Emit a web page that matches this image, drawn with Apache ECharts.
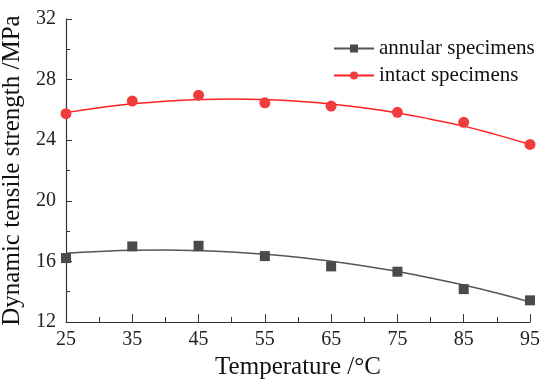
<!DOCTYPE html>
<html><head><meta charset="utf-8">
<script src="https://cdn.jsdelivr.net/npm/echarts@6/dist/echarts.min.js"></script>
<style>html,body{margin:0;padding:0;background:#fff}#c{width:550px;height:384px}</style>
</head><body><div id="c"></div>
<script>
const temps = [25, 35, 45, 55, 65, 75, 85, 95];
const annular = [16.22, 16.99, 17.03, 16.35, 15.67, 15.32, 14.17, 13.43];
const intact = [25.75, 26.58, 26.97, 26.47, 26.25, 25.84, 25.18, 23.72];
const fitTemps = [25, 30, 35, 40, 45, 50, 55, 60, 65, 70, 75, 80, 85, 90, 95];
const annularFit = [16.54, 16.65, 16.73, 16.75, 16.71, 16.62, 16.47, 16.27, 16.01, 15.70, 15.33, 14.91, 14.44, 13.91, 13.32];
const intactFit = [25.82, 26.14, 26.40, 26.57, 26.68, 26.72, 26.68, 26.57, 26.39, 26.13, 25.80, 25.39, 24.93, 24.35, 23.72];
const xTicks = [25, 35, 45, 55, 65, 75, 85, 95];
const yTicks = [12, 16, 20, 24, 28, 32];

const F = 'Liberation Serif';
const greyPt = '#4a4a4a', greyLn = '#555555', redPt = '#f03c3c', redLn = '#ff2020';
const zip = (a, b) => a.map((v, i) => [v, b[i]]);
const chart = echarts.init(document.getElementById('c'));
chart.setOption({
  animation: false,
  backgroundColor: '#fff',
  grid: {left: 66, right: 20, top: 19, bottom: 62, containLabel: false, outerBoundsMode: 'none'},
  legend: {
    data: ['annular specimens', 'intact specimens'],
    orient: 'vertical', left: 328, top: 33, itemGap: 6, itemWidth: 40, itemHeight: 10,
    textStyle: {fontFamily: F, fontSize: 21, color: '#111'}
  },
  xAxis: {
    type: 'value', min: 25, max: 95, interval: 10,
    name: 'Temperature /°C', nameLocation: 'middle', nameGap: 26,
    nameTextStyle: {fontFamily: F, fontSize: 25, color: '#111'},
    axisLine: {lineStyle: {color: '#333', width: 1.2}},
    axisTick: {inside: true, length: 8, lineStyle: {color: '#333'}},
    minorTick: {show: true, splitNumber: 2, length: 5, lineStyle: {color: '#333'}},
    axisLabel: {fontFamily: F, fontSize: 20, color: '#222', margin: 8,
      formatter: v => xTicks.includes(v) ? String(v) : ''},
    splitLine: {show: false}
  },
  yAxis: {
    type: 'value', min: 12, max: 32, interval: 4,
    name: 'Dynamic tensile strength /MPa', nameLocation: 'middle', nameGap: 34,
    nameTextStyle: {fontFamily: F, fontSize: 25, color: '#111'},
    axisLine: {show: true, lineStyle: {color: '#333', width: 1.2}},
    axisTick: {inside: true, length: 6, lineStyle: {color: '#333'}},
    minorTick: {show: true, splitNumber: 2, length: 4, lineStyle: {color: '#333'}},
    axisLabel: {fontFamily: F, fontSize: 20, color: '#222', margin: 10,
      formatter: v => yTicks.includes(v) ? String(v) : ''},
    splitLine: {show: false}
  },
  series: [
    {name: 'annular specimens', type: 'line', smooth: true, data: zip(fitTemps, annularFit),
      symbol: 'rect', symbolSize: 9, showSymbol: false,
      lineStyle: {color: greyLn, width: 1.5}, itemStyle: {color: greyPt}, z: 2},
    {name: 'intact specimens', type: 'line', smooth: true, data: zip(fitTemps, intactFit),
      symbol: 'circle', symbolSize: 10, showSymbol: false,
      lineStyle: {color: redLn, width: 1.5}, itemStyle: {color: redPt}, z: 2},
    {name: 'annular data', type: 'scatter', data: zip(temps, annular),
      symbol: 'rect', symbolSize: 10, itemStyle: {color: greyPt, opacity: 1}, z: 3},
    {name: 'intact data', type: 'scatter', data: zip(temps, intact),
      symbol: 'circle', symbolSize: 11, itemStyle: {color: redPt, opacity: 1}, z: 3}
  ]
});
</script></body></html>
